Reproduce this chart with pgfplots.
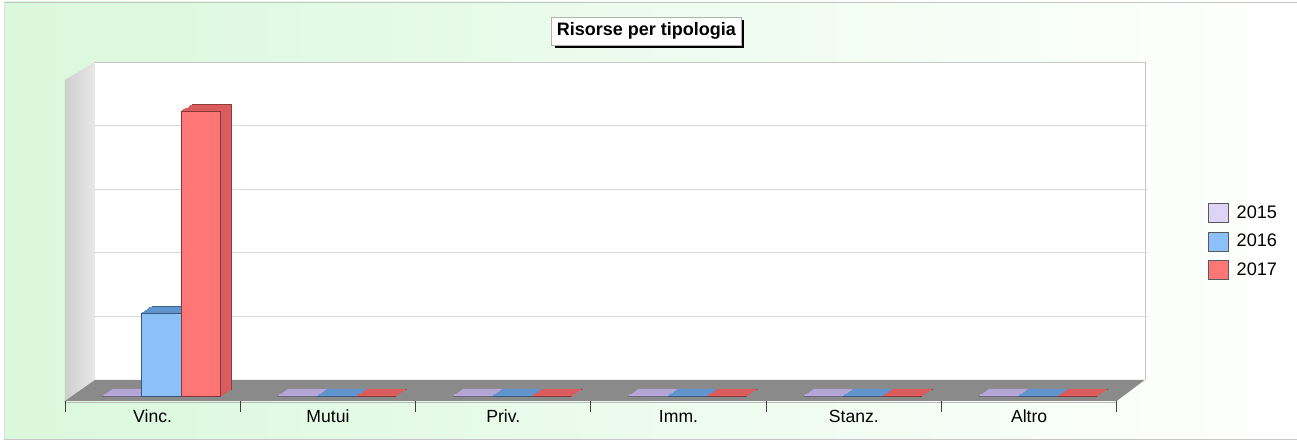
\documentclass[border=0pt]{standalone}
\usepackage{fontspec}
\setmainfont{Liberation Sans}
\usepackage{pgfplots}
\pgfplotsset{compat=1.18}
\usetikzlibrary{shadows}
\definecolor{bggreen}{RGB}{218,248,220}
\definecolor{lav}{RGB}{222,212,245}
\definecolor{lavd}{RGB}{180,165,215}
\definecolor{sky}{RGB}{140,192,250}
\definecolor{skyd}{RGB}{95,148,205}
\definecolor{rose}{RGB}{255,118,118}
\definecolor{rosed}{RGB}{218,92,92}
\definecolor{floorc}{RGB}{138,138,138}
\tikzset{
 ext/.style={
  preaction={fill=#1,draw=#1!65!black,line width=0.6pt,transform canvas={shift={(8.25pt,5.25pt)}}},
  preaction={fill=#1,draw=#1,line width=0.9pt,transform canvas={shift={(7.22pt,4.59pt)}}},
  preaction={fill=#1,draw=#1,line width=0.9pt,transform canvas={shift={(6.19pt,3.94pt)}}},
  preaction={fill=#1,draw=#1,line width=0.9pt,transform canvas={shift={(5.16pt,3.28pt)}}},
  preaction={fill=#1,draw=#1,line width=0.9pt,transform canvas={shift={(4.13pt,2.63pt)}}},
  preaction={fill=#1,draw=#1,line width=0.9pt,transform canvas={shift={(3.09pt,1.97pt)}}},
  preaction={fill=#1,draw=#1,line width=0.9pt,transform canvas={shift={(2.06pt,1.31pt)}}},
  preaction={fill=#1,draw=#1,line width=0.9pt,transform canvas={shift={(1.03pt,0.66pt)}}}
 }
}
\begin{document}
\begin{tikzpicture}[x=0.75pt,y=0.75pt]
% background
\fill[white] (0,0) rectangle (1297,443);
\shade[left color=bggreen, right color=white] (4,4) rectangle (1297,441);
\draw[gray!45] (4,441)--(1297,441);
\draw[gray!45] (4,4)--(1297,4);
\draw[gray!25] (4,4)--(4,441);
% left wall
\shade[left color=gray!38, right color=gray!18] (65,42)--(65,363)--(95,381)--(95,63)--cycle;
% back wall
\fill[white] (95,63) rectangle (1145,381);
\draw[gray!45] (95,381)--(1145,381)--(1145,63);
% floor
\fill[floorc] (65,42)--(1117,42)--(1145,63)--(95,63)--cycle;
\draw[gray!55] (65,41)--(1117,41);
\foreach \x in {65,240.3,415.7,591,766.3,941.7,1117} \draw[black!75, line width=0.6pt] (\x,42)--(\x,31);
% title
\node[draw=gray!60, fill=white, font=\bfseries\fontsize{13.5}{16}\selectfont,
  drop shadow={shadow xshift=2.3pt,shadow yshift=-2.3pt,fill=black,opacity=1},
  minimum width=142pt, minimum height=21pt, inner sep=0pt] at (646.5,412) {Risorse per tipologia};
\begin{axis}[
 at={(54pt,35.25pt)}, anchor=south west,
 scale only axis, width=789pt, height=238.5pt,
 xmin=-0.5, xmax=5.5, ymin=0, ymax=5,
 ybar=0pt, bar width=29.6pt,
 axis line style={draw=none},
 xtick={0,...,5}, xticklabels={Vinc.,Mutui,Priv.,Imm.,Stanz.,Altro},
 ytick={1,2,3,4}, yticklabels={},
 major tick length=0pt,
 ymajorgrids, major grid style={draw=gray!30, line width=0.5pt, xshift=17.25pt, yshift=12pt},
 xticklabel style={font=\fontsize{13.2}{15}\selectfont, anchor=base, xshift=-5.25pt, yshift=-20pt},
 clip=false,
 legend style={at={(1.08,0.607)}, anchor=north west, draw=none, fill=none, inner sep=0pt,
   row sep=6.6pt, font=\fontsize{13.6}{15}\selectfont,
   nodes={inner sep=1pt}},
 legend cell align=left,
 /tikz/every odd column/.append style={column sep=5pt},
]
\addlegendimage{legend image code/.code={\draw[fill=lav,draw=gray!70!black] (0pt,-7.2pt) rectangle (15pt,7.2pt);}}
\addlegendentry{2015}
\addlegendimage{legend image code/.code={\draw[fill=sky,draw=gray!70!black] (0pt,-7.2pt) rectangle (15pt,7.2pt);}}
\addlegendentry{2016}
\addlegendimage{legend image code/.code={\draw[fill=rose,draw=gray!70!black] (0pt,-7.2pt) rectangle (15pt,7.2pt);}}
\addlegendentry{2017}
\addplot[forget plot, bar shift=-28.3pt, ext=lavd, fill=lav, draw=lavd!60!black, line width=0.5pt] coordinates {(0,0) (1,0) (2,0) (3,0) (4,0) (5,0)};
\addplot[forget plot, bar shift=1.35pt, ext=skyd, fill=sky, draw=skyd!60!black, line width=0.5pt] coordinates {(0,1.30) (1,0) (2,0) (3,0) (4,0) (5,0)};
\addplot[forget plot, bar shift=31pt, ext=rosed, fill=rose, draw=rosed!60!black, line width=0.5pt] coordinates {(0,4.47) (1,0) (2,0) (3,0) (4,0) (5,0)};
\end{axis}
\end{tikzpicture}
\end{document}
